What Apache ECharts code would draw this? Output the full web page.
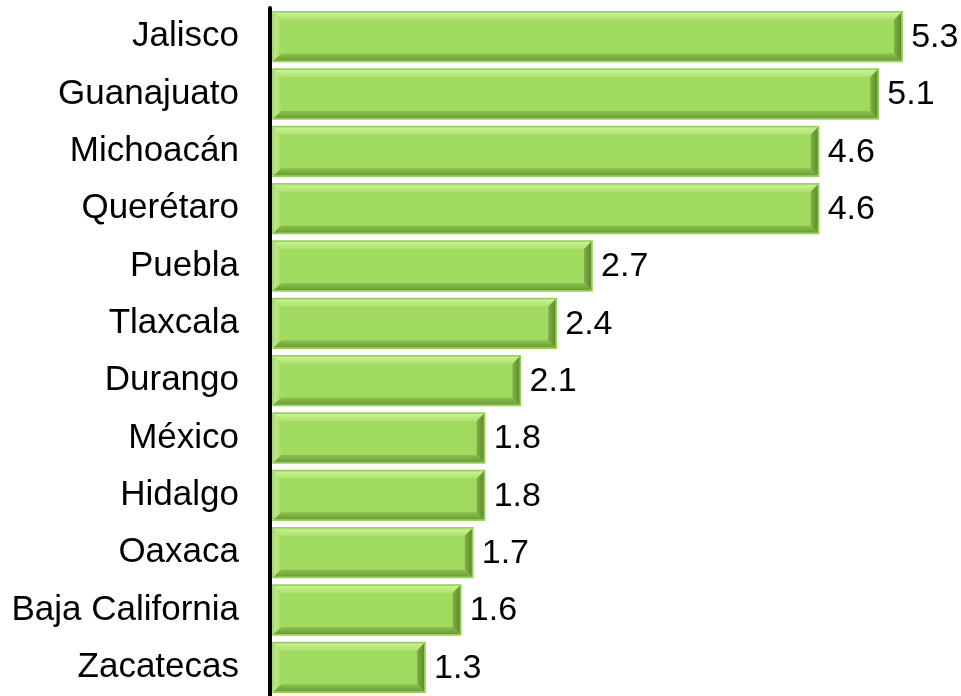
<!DOCTYPE html>
<html>
<head>
<meta charset="utf-8">
<script src="https://cdn.jsdelivr.net/npm/echarts@6/dist/echarts.min.js"></script>
<style>
  html, body { margin: 0; padding: 0; background: #fff; }
  #chart { width: 961px; height: 696px; }
</style>
</head>
<body>
<div id="chart"></div>
<script>
const states = ['Jalisco', 'Guanajuato', 'Michoacán', 'Querétaro', 'Puebla', 'Tlaxcala',
  'Durango', 'México', 'Hidalgo', 'Oaxaca', 'Baja California', 'Zacatecas']
const values = [5.3, 5.1, 4.6, 4.6, 2.7, 2.4, 2.1, 1.8, 1.8, 1.7, 1.6, 1.3]

const chart = echarts.init(document.getElementById('chart'))

function vgrad(c0, c1) {
  return new echarts.graphic.LinearGradient(0, 0, 0, 1, [{ offset: 0, color: c0 }, { offset: 1, color: c1 }])
}
function hgrad(c0, c1) {
  return new echarts.graphic.LinearGradient(0, 0, 1, 0, [{ offset: 0, color: c0 }, { offset: 1, color: c1 }])
}

// bevelled bar, like the office "bevel" shape effect
function renderBar(params, api) {
  const idx = api.value(0)
  const val = api.value(1)
  const start = api.coord([0, idx])
  const end = api.coord([val, idx])
  const h = api.size([0, 1])[1] * 0.87
  const x0 = start[0] + 3, x1 = end[0]
  const y0 = start[1] - h / 2, y1 = start[1] + h / 2
  const b = 8
  return {
    type: 'group',
    children: [
      { type: 'rect', shape: { x: x0, y: y0, width: x1 - x0, height: h },
        style: { fill: '#a0da5e', stroke: '#96cf5c', lineWidth: 1.5 } },
      { type: 'polygon', shape: { points: [[x0 + 1, y0 + 1], [x1 - 1, y0 + 1], [x1 - b, y0 + b], [x0 + b, y0 + b]] },
        style: { fill: vgrad('#c9f293', '#aee270') } },
      { type: 'polygon', shape: { points: [[x0 + 1, y0 + 1], [x0 + b, y0 + b], [x0 + b, y1 - b], [x0 + 1, y1 - 1]] },
        style: { fill: hgrad('#bdea82', '#a6de66') } },
      { type: 'polygon', shape: { points: [[x0 + 1, y1 - 1], [x0 + b, y1 - b], [x1 - b, y1 - b], [x1 - 1, y1 - 1]] },
        style: { fill: vgrad('#8cc24e', '#6c9c3a') } },
      { type: 'polygon', shape: { points: [[x1 - 1, y0 + 1], [x1 - 1, y1 - 1], [x1 - b, y1 - b], [x1 - b, y0 + b]] },
        style: { fill: hgrad('#7fb046', '#5e8a30') } },
      { type: 'text', x: x1 + 9, y: start[1] + 1,
        style: { text: String(val), fill: '#000', font: '34px "Liberation Sans", Arial, sans-serif',
          verticalAlign: 'middle', align: 'left' } }
    ]
  }
}

chart.setOption({
  animation: false,
  grid: { left: 270, right: 35, top: 8, bottom: -8 },
  xAxis: {
    type: 'value', min: 0, max: 5.5,
    show: false
  },
  yAxis: {
    type: 'category',
    data: states,
    inverse: true,
    axisLine: { lineStyle: { color: '#000', width: 4 } },
    axisTick: { show: false },
    axisLabel: {
      color: '#000', fontSize: 35, margin: 31,
      fontFamily: '"Liberation Sans", Arial, sans-serif'
    }
  },
  series: [{
    type: 'custom',
    renderItem: renderBar,
    encode: { x: 1, y: 0 },
    data: values.map((v, i) => [i, v])
  }]
})
</script>
</body>
</html>
